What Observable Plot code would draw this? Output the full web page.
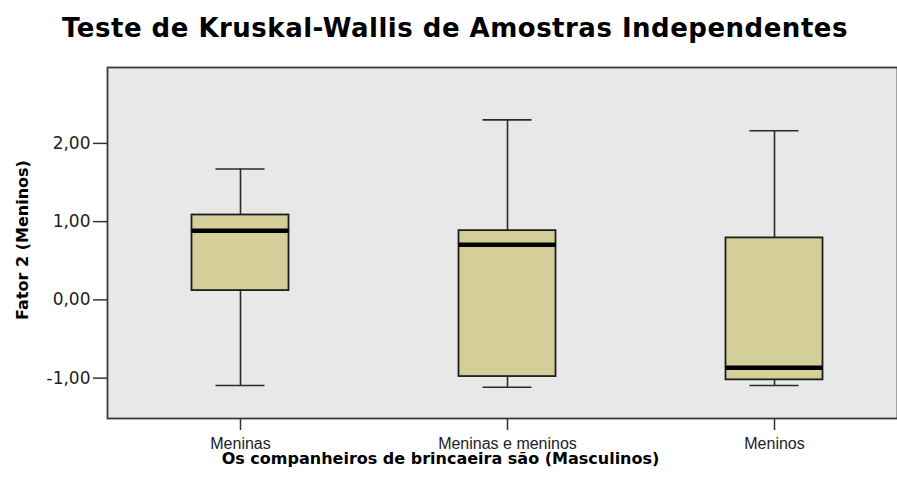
<!DOCTYPE html>
<html>
<head>
<meta charset="utf-8">
<script src="https://cdn.jsdelivr.net/npm/d3@7"></script>
<script src="https://cdn.jsdelivr.net/npm/@observablehq/plot@0.6"></script>
<style>
  body { margin: 0; background: #fff; }
  #title { height: 60px; box-sizing: border-box; padding-top: 15px; padding-left: 13px; text-align: center;
    font: bold 26px "DejaVu Sans", sans-serif; line-height: 26px; letter-spacing: 0.5px; color: #000; white-space: nowrap; }
</style>
</head>
<body>
<div id="title">Teste de Kruskal-Wallis de Amostras Independentes</div>
<div id="chart"></div>
<script>
const categories = ["Meninas", "Meninas e meninos", "Meninos"];
const whiskerLow = [-1.094, -1.116, -1.094];
const q1 = [0.119, -0.98, -1.022];
const median = [0.885, 0.706, -0.868];
const q3 = [1.085, 0.885, 0.792];
const whiskerHigh = [1.673, 2.30, 2.162];
const yTicks = [-1, 0, 1, 2];
const xTitle = "Os companheiros de brincaeira são (Masculinos)";
const yTitle = "Fator 2 (Meninos)";

const data = categories.map((c, i) => ({
  cat: c, lo: whiskerLow[i], q1: q1[i], med: median[i], q3: q3[i], hi: whiskerHigh[i]
}));

const fmt = d => d.toFixed(2).replace(".", ",");

const chart = Plot.plot({
  width: 897,
  height: 421,
  marginTop: 7,
  marginBottom: 63,
  marginLeft: 107,
  marginRight: 0,
  style: { fontFamily: "'Liberation Sans', Arial, sans-serif", fontSize: "16px", color: "#222", background: "#fff" },
  x: { domain: categories, range: [58, 956], paddingInner: 0.6367, paddingOuter: 0.5, round: false },
  y: { domain: [-1.516, 2.97] },
  marks: [
    Plot.frame({ fill: "#e8e8e8" }),
    Plot.ruleX(data, { x: "cat", y1: "lo", y2: "q1", stroke: "#2a2a2a", strokeWidth: 1.6 }),
    Plot.ruleX(data, { x: "cat", y1: "q3", y2: "hi", stroke: "#2a2a2a", strokeWidth: 1.6 }),
    Plot.tickY(data, { x: "cat", y: "lo", stroke: "#2a2a2a", strokeWidth: 1.6, inset: 24 }),
    Plot.tickY(data, { x: "cat", y: "hi", stroke: "#2a2a2a", strokeWidth: 1.6, inset: 24 }),
    Plot.barY(data, { x: "cat", y1: "q1", y2: "q3", fill: "#d4cf98", stroke: "#1e1e1e", strokeWidth: 1.8 }),
    Plot.tickY(data, { x: "cat", y: "med", stroke: "#000", strokeWidth: 4.5 }),
    Plot.frame({ stroke: "#3a3a3a", strokeWidth: 1.8 }),
    Plot.axisY({ ticks: yTicks, tickFormat: fmt, tickSize: 14, tickPadding: 3, label: null,
      stroke: "#333", strokeWidth: 1.5, fontFamily: "'DejaVu Sans', sans-serif", fontSize: 17, fill: "#222" }),
    Plot.axisX({ tickSize: 12, tickPadding: 7, label: null, stroke: "#333", strokeWidth: 1.5, fontSize: 16, fill: "#222" }),
    Plot.text([xTitle], { frameAnchor: "bottom", text: d => d, dy: 45, dx: -62,
      fontWeight: "bold", fontSize: 16, fontFamily: "'DejaVu Sans', sans-serif", fill: "#000" }),
    Plot.text([yTitle], { frameAnchor: "left", text: d => d, rotate: -90, dx: -85, dy: -3, textAnchor: "middle",
      fontWeight: "bold", fontSize: 16, fontFamily: "'DejaVu Sans', sans-serif", fill: "#000" })
  ]
});
document.getElementById("chart").appendChild(chart);
</script>
</body>
</html>
